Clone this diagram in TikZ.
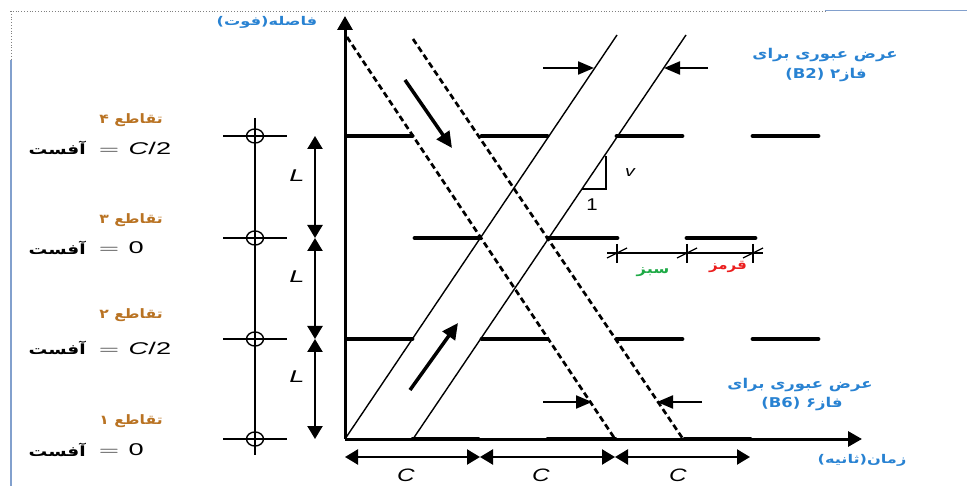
\documentclass[tikz,border=0pt]{standalone}
\usepackage{graphicx}
\usepackage{fontspec}
\setmainfont{Liberation Sans}
\newfontfamily\fa[Script=Arabic]{DejaVu Sans}
\TeXXeTstate=1
\usetikzlibrary{arrows.meta}
\definecolor{txtblue}{RGB}{40,130,210}
\definecolor{txtbrown}{RGB}{185,115,35}
\definecolor{frameblue}{RGB}{130,160,205}
\definecolor{grn}{RGB}{30,170,70}
\definecolor{rd}{RGB}{235,30,30}
\newcommand{\wide}[2]{\scalebox{#1}[1]{#2}}
\tikzset{
  axisline/.style={line width=3pt,-{Triangle[length=14pt,width=15pt]}},
  redbar/.style={line width=4.8pt,line cap=round},
  bandline/.style={line width=1.4pt},
  southline/.style={line width=2.7pt,dash pattern=on 6pt off 3.5pt},
  dimarrow/.style={line width=2.3pt,{Triangle[length=13pt,width=15pt]}-{Triangle[length=13pt,width=15pt]}},
  widtharrow/.style={line width=2.2pt,-{Triangle[length=16pt,width=13pt]}},
  dirarrow/.style={line width=3.5pt,-{Triangle[length=16pt,width=15pt]}},
  faslabel/.style={font=\fa\bfseries\fontsize{13}{15}\selectfont,text=txtbrown,inner sep=0pt},
  offlabel/.style={font=\fa\bfseries\fontsize{14}{16}\selectfont,inner sep=0pt,anchor=east},
  offval/.style={font=\fontsize{17}{20}\selectfont,inner sep=0pt,anchor=west},
  bluelabel/.style={font=\fa\bfseries\fontsize{13.5}{16}\selectfont,text=txtblue,inner sep=0pt,align=center},
  axislabel/.style={font=\fa\bfseries\fontsize{12}{14}\selectfont,text=txtblue,inner sep=0pt},
  Llabel/.style={font=\itshape\fontsize{17}{20}\selectfont,inner sep=0pt},
  Clabel/.style={font=\itshape\fontsize{18}{20}\selectfont,inner sep=0pt},
  tickmark/.style={line width=1.3pt},
}
\begin{document}
\begin{tikzpicture}[x=1pt,y=-1pt]
\useasboundingbox (0,0) rectangle (967,486);
% frame
\draw[gray,dotted,line width=0.8pt] (10,11) -- (825,11);
\draw[frameblue,line width=1pt] (825,11) -- (967,11);
\draw[gray,dotted,line width=0.8pt] (11,11) -- (11,60);
\draw[frameblue,line width=2.2pt] (11,60) -- (11,486);

% key coordinates
\coordinate (O) at (345,439);
\coordinate (Ytop) at (345,16);
\coordinate (Xend) at (862,439);

% signal bars
\foreach \y in {136,339}{
  \draw[redbar] (348,\y) -- (412,\y);
  \draw[redbar] (482,\y) -- (547,\y);
  \draw[redbar] (617,\y) -- (682,\y);
  \draw[redbar] (753,\y) -- (818,\y);
}
\draw[redbar] (415,238) -- (480,238);
\draw[redbar] (548,238) -- (617,238);
\draw[redbar] (687,238) -- (755,238);
\draw[redbar] (413,439) -- (478,439);
\draw[redbar] (548,439) -- (615,439);
\draw[redbar] (685,439) -- (750,439);

% axes
\draw[axisline] (O) -- (Ytop);
\draw[axisline] (O) -- (Xend);

% northbound band (solid)
\coordinate (n1s) at (345,439); \coordinate (n1e) at (617,35);
\coordinate (n2s) at (413,439); \coordinate (n2e) at (686,35);
\draw[bandline] (n1s) -- (n1e);
\draw[bandline] (n2s) -- (n2e);

% southbound band (dotted)
\coordinate (s1s) at (347,37); \coordinate (s1e) at (615,439);
\coordinate (s2s) at (413,39); \coordinate (s2e) at (683,439);
\draw[southline] (s1s) -- (s1e);
\draw[southline] (s2s) -- (s2e);

% direction arrows
\coordinate (da1) at (405,80); \coordinate (da2) at (452,148);
\draw[dirarrow] (da1) -- (da2);
\coordinate (ua1) at (410,390); \coordinate (ua2) at (458,323);
\draw[dirarrow] (ua1) -- (ua2);

% bandwidth arrows top
\coordinate (wa1) at (543,68); \coordinate (wa2) at (594,68);
\coordinate (wb1) at (708,68); \coordinate (wb2) at (664,68);
\draw[widtharrow] (wa1) -- (wa2);
\draw[widtharrow] (wb1) -- (wb2);
% bandwidth arrows bottom
\coordinate (wc1) at (543,402); \coordinate (wc2) at (592,402);
\coordinate (wd1) at (702,402); \coordinate (wd2) at (657,402);
\draw[widtharrow] (wc1) -- (wc2);
\draw[widtharrow] (wd1) -- (wd2);

% slope triangle
\coordinate (t1) at (582,189); \coordinate (t2) at (606,189); \coordinate (t3) at (606,156);
\draw[line width=1.5pt] (t1) -- (t2) -- (t3);
\node[font=\itshape\fontsize{15}{18}\selectfont,inner sep=0pt] (vlab) at (630,173) {\wide{1.3}{v}};
\node[font=\fontsize{17}{18}\selectfont,inner sep=0pt] (onelab) at (592,205) {\wide{1.2}{1}};

% green / red interval
\coordinate (g0) at (607,253); \coordinate (g3) at (763,253);
\draw[tickmark] (g0) -- (g3);
\foreach \x in {617,687,753}{
  \draw[tickmark] (\x,244) -- (\x,263);
  \draw[tickmark] (\x-10,258) -- (\x+10,248);
}
\node[font=\fa\bfseries\fontsize{13}{15}\selectfont,text=grn,inner sep=0pt] (sabz) at (653,272) {\wide{1.25}{\beginR سبز\endR}};
\node[font=\fa\bfseries\fontsize{13}{15}\selectfont,text=rd,inner sep=0pt] (ghermez) at (728,267) {\wide{1.15}{\beginR قرمز\endR}};

% left distance scale
\coordinate (sc0) at (255,118); \coordinate (sc1) at (255,455);
\draw[line width=2.3pt] (sc0) -- (sc1);
\foreach \y in {136,238,339,439}{
  \draw[line width=1.6pt] (223,\y) -- (287,\y);
  \draw[line width=1.4pt] (255,\y) ellipse [x radius=8.5, y radius=7];
}
% L arrows
\coordinate (L4) at (315,136); \coordinate (L3) at (315,238);
\coordinate (L2) at (315,339); \coordinate (L1) at (315,439);
\draw[dimarrow] (L4) -- (L3);
\draw[dimarrow] (L3) -- (L2);
\draw[dimarrow] (L2) -- (L1);
\node[Llabel] (la) at (297,176) {\wide{1.6}{L}};
\node[Llabel] (lb) at (297,277) {\wide{1.6}{L}};
\node[Llabel] (lc) at (297,377) {\wide{1.6}{L}};

% C arrows
\coordinate (C0) at (345,457); \coordinate (C1) at (480,457);
\coordinate (C2) at (615,457); \coordinate (C3) at (750,457);
\draw[dimarrow] (C0) -- (C1);
\draw[dimarrow] (C1) -- (C2);
\draw[dimarrow] (C2) -- (C3);
\node[Clabel] (ca) at (406,475) {\wide{1.35}{C}};
\node[Clabel] (cb) at (541,475) {\wide{1.35}{C}};
\node[Clabel] (cc) at (678,475) {\wide{1.35}{C}};

% intersection labels
\node[faslabel] (i4) at (131,120) {\wide{1.2}{\beginR تقاطع ۴\endR}};
\node[faslabel] (i3) at (131,220) {\wide{1.2}{\beginR تقاطع ۳\endR}};
\node[faslabel] (i2) at (131,315) {\wide{1.2}{\beginR تقاطع ۲\endR}};
\node[faslabel] (i1) at (131,421) {\wide{1.2}{\beginR تقاطع ۱\endR}};
\foreach \y/\v/\nm in {148/{$=$\hspace{6pt}\textit{C}/2}/a, 248/{$=$\hspace{6pt}0}/b, 348/{$=$\hspace{6pt}\textit{C}/2}/c, 450/{$=$\hspace{6pt}0}/d}{
  \node[offlabel] (off\nm) at (86,\y) {\wide{1.33}{\beginR آفست\endR}};
  \node[offval] (val\nm) at (99,\y) {\wide{1.6}{\v}};
}

% axis titles
\node[axislabel] (ylab) at (267,22) {\wide{1.35}{\beginR فاصله(فوت)\endR}};
\node[axislabel] (xlab) at (862,460) {\wide{1.35}{\beginR زمان(ثانیه)\endR}};

% phase width labels
\node[bluelabel] (b2a) at (825,55) {\wide{1.22}{\beginR عرض عبوری برای\endR}};
\node[bluelabel] (b2b) at (826,75) {\wide{1.22}{\beginR فاز۲ \beginL(B2)\endL\endR}};
\node[bluelabel] (b6a) at (800,385) {\wide{1.22}{\beginR عرض عبوری برای\endR}};
\node[bluelabel] (b6b) at (802,404) {\wide{1.22}{\beginR فاز۶ \beginL(B6)\endL\endR}};
\end{tikzpicture}
\end{document}
